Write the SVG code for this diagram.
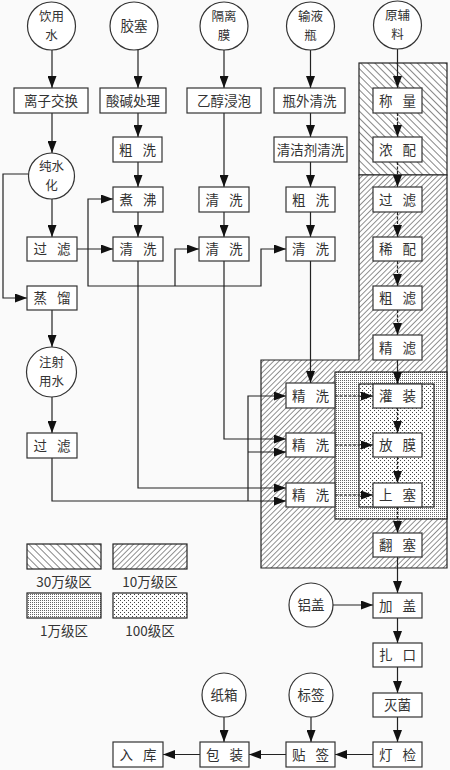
<svg xmlns="http://www.w3.org/2000/svg" width="450" height="770" viewBox="0 0 450 770">
<defs>
<style>
.bx rect{fill:#fff;stroke:#333;stroke-width:1.2}
.nd circle{fill:#fff;stroke:#333;stroke-width:1.2}
text{font-family:"Noto Sans CJK SC","Noto Sans CJK JP",sans-serif;font-size:13.5px;fill:#333;text-anchor:middle}
.nd text.t2{font-size:12.5px}
.w{word-spacing:7px}
#conn path{stroke:#222;stroke-width:1.2;fill:none}
#conn .a{marker-end:url(#ah)}
#conn .d{stroke-dasharray:3,1.5}
.zone{stroke:#222;stroke-width:1.2}
</style>
<marker id="ah" markerUnits="userSpaceOnUse" markerWidth="12" markerHeight="9" refX="12" refY="4.5" orient="auto"><path d="M0,0 L12,4.5 L0,9 z" fill="#111"/></marker>
<pattern id="p30" patternUnits="userSpaceOnUse" width="5" height="5" patternTransform="rotate(-45)"><rect width="5" height="5" fill="#fff"/><line x1="0" y1="0" x2="0" y2="5" stroke="#222" stroke-width="1.1"/></pattern>
<pattern id="p10" patternUnits="userSpaceOnUse" width="3.8" height="3.8" patternTransform="rotate(45)"><rect width="3.8" height="3.8" fill="#fff"/><line x1="0" y1="0" x2="0" y2="3.8" stroke="#222" stroke-width="1"/></pattern>
<pattern id="p1" patternUnits="userSpaceOnUse" width="2" height="2"><rect width="2" height="2" fill="#fff"/><rect width="1" height="1" fill="#666"/></pattern>
<pattern id="p100" patternUnits="userSpaceOnUse" width="4" height="4"><rect width="4" height="4" fill="#fff"/><rect width="1" height="1" fill="#444"/><rect x="2" y="2" width="1" height="1" fill="#444"/></pattern>
</defs>
<rect width="450" height="770" fill="#fafafa"/>

<g id="zones">
<rect class="zone" x="359" y="63" width="88" height="112" fill="url(#p30)"/>
<polygon class="zone" points="359,175 447,175 447,568 261,568 261,360 359,360" fill="url(#p10)"/>
<rect class="zone" x="335" y="372" width="112" height="147" fill="url(#p1)"/>
<rect class="zone" x="359" y="384" width="75" height="123" fill="url(#p100)"/>
</g>

<g id="conn">
<path class="a" d="M52,50 V88"/>
<path class="a" d="M52,113 V153"/>
<path class="a" d="M52,199 V237"/>
<path class="a" d="M28.5,174 H3 V298 H27"/>
<path class="a" d="M52,310 V347"/>
<path class="a" d="M52,397 V433"/>
<path class="a" d="M52,458 V501 H286"/>
<path class="a" d="M248,501 V396 H286"/>
<path class="a" d="M248,452 H286"/>
<path class="a" d="M77,249 H113"/>
<path class="a" d="M88,249 V199 H113"/>
<path class="a" d="M88,249 V286 H261 V249 H286"/>
<path class="a" d="M175,286 V249 H199"/>
<path class="a" d="M138,49 V88"/>
<path class="a" d="M138,113 V137"/>
<path class="a" d="M138,162 V187"/>
<path class="a" d="M138,212 V237"/>
<path class="a" d="M138,261 V488 H286"/>
<path class="a" d="M224,50 V88"/>
<path class="a" d="M224,113 V187"/>
<path class="a" d="M224,212 V237"/>
<path class="a" d="M224,261 V439 H286"/>
<path class="a" d="M310.5,49 V88"/>
<path class="a" d="M310.5,113 V137"/>
<path class="a" d="M310.5,162 V187"/>
<path class="a" d="M310.5,212 V237"/>
<path class="a" d="M310.5,261 V383"/>
<path class="a" d="M397.5,49 V88"/>
<path class="a d" d="M397.5,113 V137"/>
<path class="a d" d="M397.5,162 V187"/>
<path class="a d" d="M397.5,212 V237"/>
<path class="a d" d="M397.5,261 V286"/>
<path class="a d" d="M397.5,310 V335"/>
<path class="a" d="M397.5,360 V384"/>
<path class="a d" d="M397.5,408 V433"/>
<path class="a d" d="M397.5,457 V483"/>
<path class="a d" d="M397.5,507 V533"/>
<path class="a" d="M397.5,557 V593"/>
<path class="a" d="M397.5,618 V643"/>
<path class="a" d="M397.5,667 V693"/>
<path class="a" d="M397.5,717 V742"/>
<path class="a d" d="M335,396 H373"/>
<path class="a d" d="M335,445 H373"/>
<path class="a d" d="M335,495 H373"/>
<path class="a" d="M333,605 H373"/>
<path class="a" d="M373,754.5 H335"/>
<path class="a" d="M286,754.5 H249"/>
<path class="a" d="M200,754.5 H163"/>
<path class="a" d="M311,717 V742"/>
<path class="a" d="M224,717 V742"/>
</g>

<g id="n-yinyongshui" class="nd"><circle cx="51.5" cy="26" r="24"/><text class="t2" x="51.5" y="21">饮用</text><text class="t2" x="51.5" y="39.5">水</text></g>
<g id="n-jiaosai" class="nd"><circle cx="134" cy="26" r="24"/><text x="134" y="31">胶塞</text></g>
<g id="n-gelimo" class="nd"><circle cx="224" cy="26" r="24"/><text class="t2" x="224" y="21">隔离</text><text class="t2" x="224" y="39.5">膜</text></g>
<g id="n-shuyeping" class="nd"><circle cx="310.5" cy="26" r="24"/><text class="t2" x="310.5" y="21">输液</text><text class="t2" x="310.5" y="39.5">瓶</text></g>
<g id="n-yuanfuliao" class="nd"><circle cx="397.5" cy="25" r="24"/><text class="t2" x="397.5" y="20">原辅</text><text class="t2" x="397.5" y="38.5">料</text></g>
<g id="n-chunshuihua" class="nd"><circle cx="51.5" cy="176" r="23"/><text class="t2" x="51.5" y="171">纯水</text><text class="t2" x="51.5" y="189.5">化</text></g>
<g id="n-zhusheyongshui" class="nd"><circle cx="51.5" cy="372" r="25"/><text class="t2" x="51.5" y="367">注射</text><text class="t2" x="51.5" y="385.5">用水</text></g>
<g id="n-lvgai" class="nd"><circle cx="311" cy="605" r="22"/><text x="311" y="610">铝盖</text></g>
<g id="n-zhixiang" class="nd"><circle cx="224" cy="695" r="22"/><text x="224" y="700">纸箱</text></g>
<g id="n-biaoqian" class="nd"><circle cx="311" cy="695" r="22"/><text x="311" y="700">标签</text></g>

<g id="n-lizijiaohuan" class="bx"><rect x="14" y="88" width="74" height="25"/><text x="51" y="105.5">离子交换</text></g>
<g id="n-guolv1" class="bx"><rect x="27" y="237" width="50" height="24"/><text class="w" x="52" y="254">过 滤</text></g>
<g id="n-zhengliu" class="bx"><rect x="27" y="286" width="50" height="24"/><text class="w" x="52" y="303">蒸 馏</text></g>
<g id="n-guolv2" class="bx"><rect x="27" y="433" width="50" height="25"/><text class="w" x="52" y="450.5">过 滤</text></g>

<g id="n-suanjian" class="bx"><rect x="100" y="88" width="66" height="25"/><text x="133" y="105.5">酸碱处理</text></g>
<g id="n-cuxi2" class="bx"><rect x="113" y="137" width="49" height="25"/><text class="w" x="137.5" y="154.5">粗 洗</text></g>
<g id="n-zhufei" class="bx"><rect x="113" y="187" width="50" height="25"/><text class="w" x="138" y="204.5">煮 沸</text></g>
<g id="n-qingxi2" class="bx"><rect x="113" y="237" width="50" height="24"/><text class="w" x="138" y="254">清 洗</text></g>

<g id="n-yichun" class="bx"><rect x="187" y="88" width="74" height="25"/><text x="224" y="105.5">乙醇浸泡</text></g>
<g id="n-qingxi3a" class="bx"><rect x="199" y="187" width="50" height="25"/><text class="w" x="224" y="204.5">清 洗</text></g>
<g id="n-qingxi3b" class="bx"><rect x="199" y="237" width="50" height="24"/><text class="w" x="224" y="254">清 洗</text></g>

<g id="n-pingwai" class="bx"><rect x="274" y="88" width="71" height="25"/><text x="309.5" y="105.5">瓶外清洗</text></g>
<g id="n-qingjieji" class="bx"><rect x="274" y="137" width="73" height="25"/><text x="310.5" y="154.5">清洁剂清洗</text></g>
<g id="n-cuxi4" class="bx"><rect x="286" y="187" width="49" height="25"/><text class="w" x="310.5" y="204.5">粗 洗</text></g>
<g id="n-qingxi4" class="bx"><rect x="286" y="237" width="49" height="24"/><text class="w" x="310.5" y="254">清 洗</text></g>

<g id="n-jingxi1" class="bx"><rect x="286" y="383" width="49" height="25"/><text class="w" x="310.5" y="400.5">精 洗</text></g>
<g id="n-jingxi2" class="bx"><rect x="286" y="433" width="49" height="24"/><text class="w" x="310.5" y="450">精 洗</text></g>
<g id="n-jingxi3" class="bx"><rect x="286" y="483" width="49" height="24"/><text class="w" x="310.5" y="500">精 洗</text></g>

<g id="n-chengliang" class="bx"><rect x="373" y="88" width="49" height="25"/><text class="w" x="397.5" y="105.5">称 量</text></g>
<g id="n-nongpei" class="bx"><rect x="373" y="137" width="49" height="25"/><text class="w" x="397.5" y="154.5">浓 配</text></g>
<g id="n-guolv5" class="bx"><rect x="373" y="187" width="49" height="25"/><text class="w" x="397.5" y="204.5">过 滤</text></g>
<g id="n-xipei" class="bx"><rect x="373" y="237" width="49" height="24"/><text class="w" x="397.5" y="254">稀 配</text></g>
<g id="n-culv" class="bx"><rect x="373" y="286" width="49" height="24"/><text class="w" x="397.5" y="303">粗 滤</text></g>
<g id="n-jinglv" class="bx"><rect x="373" y="335" width="49" height="25"/><text class="w" x="397.5" y="352.5">精 滤</text></g>
<g id="n-guanzhuang" class="bx"><rect x="373" y="384" width="49" height="24"/><text class="w" x="397.5" y="401">灌 装</text></g>
<g id="n-fangmo" class="bx"><rect x="373" y="433" width="49" height="24"/><text class="w" x="397.5" y="450">放 膜</text></g>
<g id="n-shangsai" class="bx"><rect x="373" y="483" width="49" height="24"/><text class="w" x="397.5" y="500">上 塞</text></g>
<g id="n-fansai" class="bx"><rect x="373" y="533" width="49" height="24"/><text class="w" x="397.5" y="550">翻 塞</text></g>
<g id="n-jiagai" class="bx"><rect x="373" y="593" width="49" height="25"/><text class="w" x="397.5" y="610.5">加 盖</text></g>
<g id="n-zhakou" class="bx"><rect x="373" y="643" width="49" height="24"/><text class="w" x="397.5" y="660">扎 口</text></g>
<g id="n-miejun" class="bx"><rect x="373" y="693" width="49" height="24"/><text x="397.5" y="710">灭菌</text></g>
<g id="n-dengjian" class="bx"><rect x="373" y="742" width="49" height="25"/><text class="w" x="397.5" y="759.5">灯 检</text></g>
<g id="n-tieqian" class="bx"><rect x="286" y="742" width="49" height="25"/><text class="w" x="310.5" y="759.5">贴 签</text></g>
<g id="n-baozhuang" class="bx"><rect x="200" y="742" width="49" height="25"/><text class="w" x="224.5" y="759.5">包 装</text></g>
<g id="n-ruku" class="bx"><rect x="113" y="742" width="50" height="25"/><text class="w" x="138" y="759.5">入 库</text></g>

<g id="legend">
<rect class="zone" x="27" y="544" width="74" height="25" fill="url(#p30)"/>
<rect class="zone" x="113" y="544" width="74" height="25" fill="url(#p10)"/>
<rect class="zone" x="27" y="593" width="74" height="25" fill="url(#p1)"/>
<rect class="zone" x="113" y="593" width="74" height="25" fill="url(#p100)"/>
<text x="64" y="587">30万级区</text>
<text x="150" y="587">10万级区</text>
<text x="64" y="636">1万级区</text>
<text x="150" y="636">100级区</text>
</g>
</svg>
